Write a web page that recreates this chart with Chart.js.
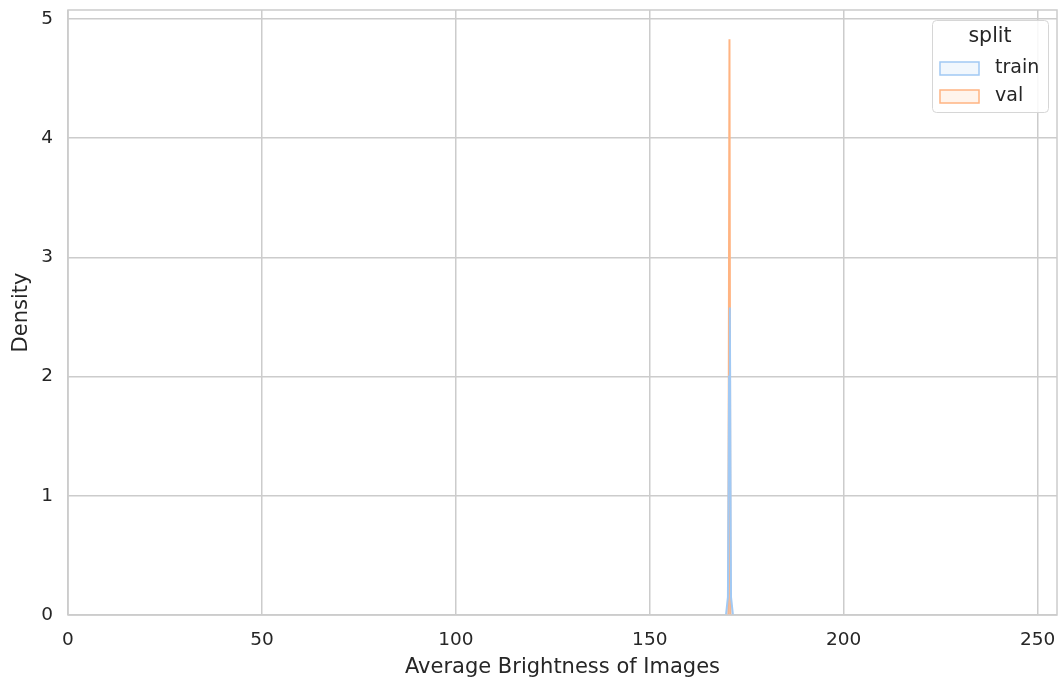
<!DOCTYPE html>
<html lang="en">
<head>
  <meta charset="UTF-8" />
  <title>Average Brightness Density</title>
  <script src="https://cdn.jsdelivr.net/npm/chart.js"></script>
  <style>
    body { margin: 0; background: #fff; }
    .wrap { width: 1061px; height: 682px; }
  </style>
</head>
<body>
  <div class="wrap"><canvas id="kde"></canvas></div>
  <script>
    // density curves (x = brightness, y = density)
    const trainX = [169.65, 170.15, 170.45, 170.65, 170.95, 171.45];
    const trainY = [0, 0.15, 2.0, 2.58, 0.15, 0];
    const valX = [170.25, 170.55, 170.8];
    const valY = [0, 4.83, 0];
    const xTicks = [0, 50, 100, 150, 200, 250];
    const yTicks = [0, 1, 2, 3, 4, 5];
    const splitNames = ['train', 'val'];

    const ink = '#262626';
    const font = 'DejaVu Sans';

    const pts = (xs, ys) => xs.map((x, i) => ({ x, y: ys[i] }));

    // box around the plot + legend inside upper-right corner
    const framePlugin = {
      id: 'frame',
      afterDatasetsDraw(chart) {
        const { ctx, chartArea: a } = chart;
        ctx.save();
        ctx.strokeStyle = '#cccccc';
        ctx.lineWidth = 1.5;
        ctx.strokeRect(a.left, a.top, a.right - a.left, a.bottom - a.top);

        // legend
        const bx = 932, by = 20, bw = 116, bh = 92;
        ctx.fillStyle = 'rgba(255,255,255,0.85)';
        ctx.strokeStyle = '#d6d6d6';
        ctx.lineWidth = 1;
        ctx.beginPath();
        ctx.roundRect(bx + 0.5, by + 0.5, bw, bh, 4);
        ctx.fill();
        ctx.stroke();
        ctx.fillStyle = ink;
        ctx.font = '20.5px ' + font;
        ctx.textAlign = 'center';
        ctx.textBaseline = 'middle';
        ctx.fillText('split', bx + bw / 2, by + 17);
        ctx.textAlign = 'left';
        ctx.font = '19px ' + font;
        chart.data.datasets.forEach((ds, i) => {
          const yy = by + 48 + i * 28;
          ctx.fillStyle = ds.backgroundColor;
          ctx.fillRect(940, yy - 6, 39, 13);
          ctx.strokeStyle = ds.borderColor;
          ctx.lineWidth = 1.5;
          ctx.strokeRect(940, yy - 6, 39, 13);
          ctx.fillStyle = ink;
          ctx.fillText(splitNames[i], 995, yy);
        });
        ctx.restore();
      }
    };

    new Chart(document.getElementById('kde'), {
      type: 'line',
      data: {
        datasets: [
          { label: splitNames[0], data: pts(trainX, trainY), borderColor: '#a1c9f4', backgroundColor: 'rgba(161,201,244,0.15)', fill: 'origin', borderWidth: 2, pointRadius: 0, tension: 0 },
          { label: splitNames[1], data: pts(valX, valY), borderColor: '#ffb482', backgroundColor: 'rgba(255,180,130,0.15)', fill: 'origin', borderWidth: 2, pointRadius: 0, tension: 0 }
        ]
      },
      options: {
        responsive: true,
        maintainAspectRatio: false,
        animation: false,
        layout: { padding: { top: 10, right: 4, left: 8, bottom: 4 } },
        plugins: { legend: { display: false }, tooltip: { enabled: false } },
        scales: {
          x: {
            type: 'linear', min: 0, max: 255,
            afterBuildTicks: s => { s.ticks = xTicks.map(v => ({ value: v })); },
            afterFit: s => { s.height = 63; s.paddingLeft = 0; s.paddingRight = 0; },
            grid: { color: '#cccccc', lineWidth: 1.5, drawTicks: false },
            border: { display: false },
            ticks: { color: ink, font: { family: font, size: 18.5 }, padding: 14, maxRotation: 0 },
            title: { display: true, text: 'Average Brightness of Images', color: ink, font: { family: font, size: 21, lineHeight: 1 }, padding: { top: 4, bottom: 0 } }
          },
          y: {
            min: 0, max: 5.075,
            afterBuildTicks: s => { s.ticks = yTicks.map(v => ({ value: v })); },
            afterFit: s => { s.width = 60; s.paddingTop = 0; s.paddingBottom = 0; },
            grid: { color: '#cccccc', lineWidth: 1.5, drawTicks: false },
            border: { display: false },
            ticks: { color: ink, font: { family: font, size: 18.5 }, padding: 15 },
            title: { display: true, text: 'Density', color: ink, font: { family: font, size: 21, lineHeight: 1 }, padding: { top: 3, bottom: 0 } }
          }
        }
      },
      plugins: [framePlugin]
    });
  </script>
</body>
</html>
